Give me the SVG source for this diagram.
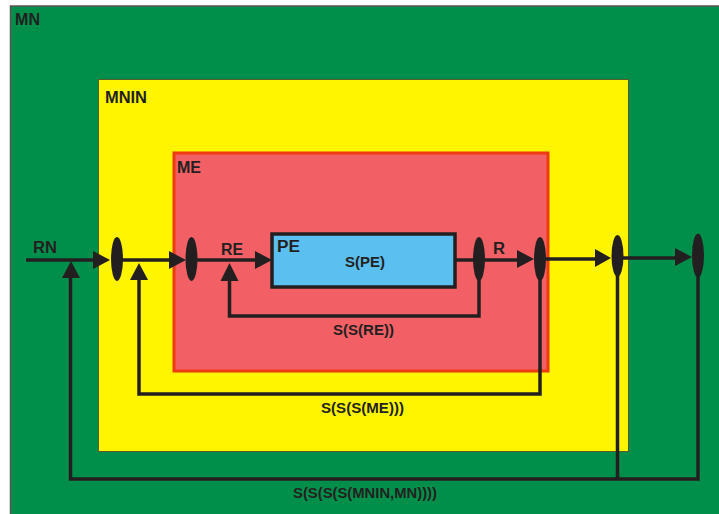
<svg xmlns="http://www.w3.org/2000/svg" width="719" height="514" viewBox="0 0 719 514">
<defs>
<style>
.t{font-family:"Liberation Sans",Arial,sans-serif;font-weight:bold;fill:#231f20}
.big{font-size:16px}
.sm{font-size:14px}
.ln{stroke:#231f20;stroke-width:3.5;fill:none}
.ah{fill:#231f20}
.el{fill:#231f20}
</style>
</defs>
<rect width="719" height="514" fill="#ffffff"/>
<g id="MN">
<rect x="10.5" y="6" width="720" height="520" fill="#008f4a" stroke="#555" stroke-width="1.5"/>
<text class="t big" x="15" y="25" textLength="25" lengthAdjust="spacingAndGlyphs">MN</text>
</g>
<g id="MNIN">
<rect x="98.5" y="79.5" width="530" height="372" fill="#fff500" stroke="#5a5a2a" stroke-width="1"/>
<text class="t big" x="105" y="103" textLength="42" lengthAdjust="spacingAndGlyphs">MNIN</text>
</g>
<g id="ME">
<rect x="174" y="153" width="374" height="218" fill="#f26065" stroke="#ee3a10" stroke-width="3"/>
<text class="t big" x="177" y="173" textLength="24" lengthAdjust="spacingAndGlyphs">ME</text>
</g>
<g id="PE">
<rect x="272" y="234" width="183" height="53" fill="#5bbff0" stroke="#231f20" stroke-width="3.5"/>
<text class="t big" x="277" y="252" textLength="23" lengthAdjust="spacingAndGlyphs">PE</text>
<text class="t sm" x="365" y="267" text-anchor="middle" textLength="40" lengthAdjust="spacingAndGlyphs">S(PE)</text>
</g>
<g id="connectors">
<!-- main line -->
<path class="ln" d="M26 260H96M120 260H170M195 260H256M456 260H518M544 259H596M621 258H676"/>
<polygon class="ah" points="93,251 110,260 93,269"/>
<polygon class="ah" points="169,251 186,260 169,269"/>
<polygon class="ah" points="255,251 272,260 255,269"/>
<polygon class="ah" points="517,250 534,259 517,268"/>
<polygon class="ah" points="595,249 611,258 595,267"/>
<polygon class="ah" points="675,248 692,257 675,266"/>
<!-- ellipses -->
<ellipse class="el" cx="117" cy="259" rx="6" ry="22"/>
<ellipse class="el" cx="191.5" cy="259" rx="6" ry="22"/>
<ellipse class="el" cx="479" cy="259" rx="6" ry="22"/>
<ellipse class="el" cx="540" cy="259" rx="6" ry="22"/>
<ellipse class="el" cx="617.5" cy="256" rx="6" ry="21"/>
<ellipse class="el" cx="698" cy="255.5" rx="6" ry="22"/>
<!-- feedback loops -->
<path class="ln" d="M479 270V316H229.5V278"/>
<polygon class="ah" points="220.5,281 229.5,263 238.5,281"/>
<path class="ln" d="M540 270V394H139V277"/>
<polygon class="ah" points="130,280 139,263 148,280"/>
<path class="ln" d="M698 266V479H70.5V276"/>
<path class="ln" d="M617.5 266V479"/>
<polygon class="ah" points="62,278 71,261 80,278"/>
<!-- labels -->
<text class="t big" x="33" y="253" textLength="24" lengthAdjust="spacingAndGlyphs">RN</text>
<text class="t big" x="221" y="255" textLength="22" lengthAdjust="spacingAndGlyphs">RE</text>
<text class="t big" x="493" y="254" textLength="12" lengthAdjust="spacingAndGlyphs">R</text>
<text class="t sm" x="363.5" y="335" text-anchor="middle" textLength="61" lengthAdjust="spacingAndGlyphs">S(S(RE))</text>
<text class="t sm" x="362.5" y="413" text-anchor="middle" textLength="83" lengthAdjust="spacingAndGlyphs">S(S(S(ME)))</text>
<text class="t sm" x="365" y="498" text-anchor="middle" textLength="144" lengthAdjust="spacingAndGlyphs">S(S(S(S(MNIN,MN))))</text>
</g>
</svg>
